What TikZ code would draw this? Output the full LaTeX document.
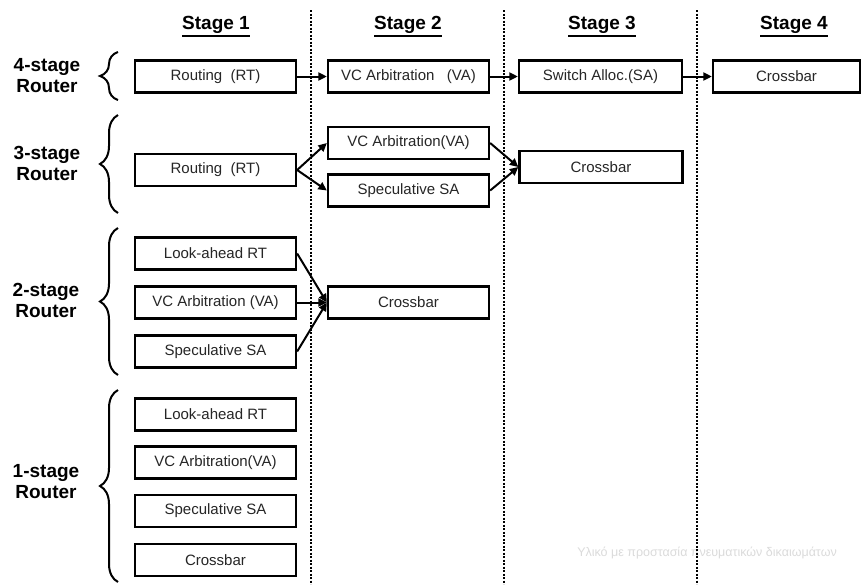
\documentclass[tikz,border=0pt]{standalone}
\usepackage{fontspec}
\setmainfont{Liberation Sans}
\usetikzlibrary{arrows.meta,decorations.pathreplacing}
\begin{document}
\begin{tikzpicture}[x=1pt,y=-1pt,
  stagebox/.style={draw, line width=2.3pt, minimum width=161pt, minimum height=32pt,
    inner sep=0pt, text=black!85, font=\fontsize{15}{17}\selectfont},
  flow/.style={line width=2pt, -{Triangle[length=8.5pt,width=8pt]}},
  divider/.style={line width=2.4pt, dash pattern=on 2.2pt off 1.3pt},
  header/.style={font=\fontsize{19}{22}\selectfont\bfseries, anchor=base,
    inner xsep=0pt, inner ysep=2.5pt},
  underbar/.style={line width=1.6pt},
  rowlabel/.style={font=\fontsize{19}{21}\selectfont\bfseries, align=center},
  routerbrace/.style={line width=2pt, decorate, decoration={brace, amplitude=18pt}},
  watermark/.style={text=gray!28, font=\fontsize{12.5}{14}\selectfont},
]
\fill[white] (0,0) rectangle (864,584);
\useasboundingbox (0,0) rectangle (864,584);

% faint notice in the lower right corner
\node[watermark] (notice) at (707,553) {Υλικό με προστασία πνευματικών δικαιωμάτων};

% stage dividers
\coordinate (d1t) at (311,10); \coordinate (d1b) at (311,584);
\coordinate (d2t) at (504,10); \coordinate (d2b) at (504,584);
\coordinate (d3t) at (697,10); \coordinate (d3b) at (697,584);
\draw[divider] (d1t) -- (d1b);
\draw[divider] (d2t) -- (d2b);
\draw[divider] (d3t) -- (d3b);

% stage headers
\node[header] (h1) at (216,29) {Stage 1};
\node[header] (h2) at (408,29) {Stage 2};
\node[header] (h3) at (602,29) {Stage 3};
\node[header] (h4) at (794,29) {Stage 4};
\foreach \h in {h1,h2,h3,h4}
  \draw[underbar] (\h.south west) -- (\h.south east);

% row labels and braces
\node[rowlabel] (l4) at (47,76) {4-stage\\Router};
\node[rowlabel] (l3) at (47,163) {3-stage\\Router};
\node[rowlabel] (l2) at (46,300) {2-stage\\Router};
\node[rowlabel] (l1) at (46,482) {1-stage\\Router};
\coordinate (b4a) at (118,100); \coordinate (b4b) at (118,52);
\coordinate (b3a) at (118,213); \coordinate (b3b) at (118,115);
\coordinate (b2a) at (118,375); \coordinate (b2b) at (118,228);
\coordinate (b1a) at (118,582); \coordinate (b1b) at (118,390);
\draw[routerbrace] (b4a) -- (b4b);
\draw[routerbrace] (b3a) -- (b3b);
\draw[routerbrace] (b2a) -- (b2b);
\draw[routerbrace] (b1a) -- (b1b);

% 4-stage router
\node[stagebox] (r4rt) at (215.5,76.5) {Routing\ \ (RT)};
\node[stagebox] (r4va) at (408.5,76.5) {VC Arbitration\ \ \ (VA)};
\node[stagebox, minimum width=163pt] (r4sa) at (600.5,76.5) {Switch Alloc.(SA)};
\node[stagebox, minimum width=147pt] (r4xb) at (786.5,76.5) {Crossbar};
\draw[flow] (r4rt) -- (r4va);
\draw[flow] (r4va) -- (r4sa);
\draw[flow] (r4sa) -- (r4xb);

% 3-stage router
\node[stagebox] (r3rt) at (215.5,170) {Routing\ \ (RT)};
\node[stagebox] (r3va) at (408.5,143) {VC Arbitration(VA)};
\node[stagebox] (r3sa) at (408.5,190.5) {Speculative SA};
\node[stagebox, minimum width=163pt] (r3xb) at (601,167) {Crossbar};
\draw[flow] (r3rt.east) -- (r3va.west);
\draw[flow] (r3rt.east) -- (r3sa.west);
\draw[flow] (r3va.east) -- (r3xb.west);
\draw[flow] (r3sa.east) -- (r3xb.west);

% 2-stage router
\node[stagebox] (r2la) at (215.5,253.5) {Look-ahead RT};
\node[stagebox] (r2va) at (215.5,302.5) {VC Arbitration (VA)};
\node[stagebox] (r2sa) at (215.5,351.5) {Speculative SA};
\node[stagebox] (r2xb) at (408.5,302.5) {Crossbar};
\draw[flow] (r2la.east) -- (r2xb.west);
\draw[flow] (r2va.east) -- (r2xb.west);
\draw[flow] (r2sa.east) -- (r2xb.west);

% 1-stage router
\node[stagebox] (r1la) at (215.5,414.5) {Look-ahead RT};
\node[stagebox] (r1va) at (215.5,462.5) {VC Arbitration(VA)};
\node[stagebox] (r1sa) at (215.5,511) {Speculative SA};
\node[stagebox] (r1xb) at (215.5,560) {Crossbar};
\end{tikzpicture}
\end{document}
